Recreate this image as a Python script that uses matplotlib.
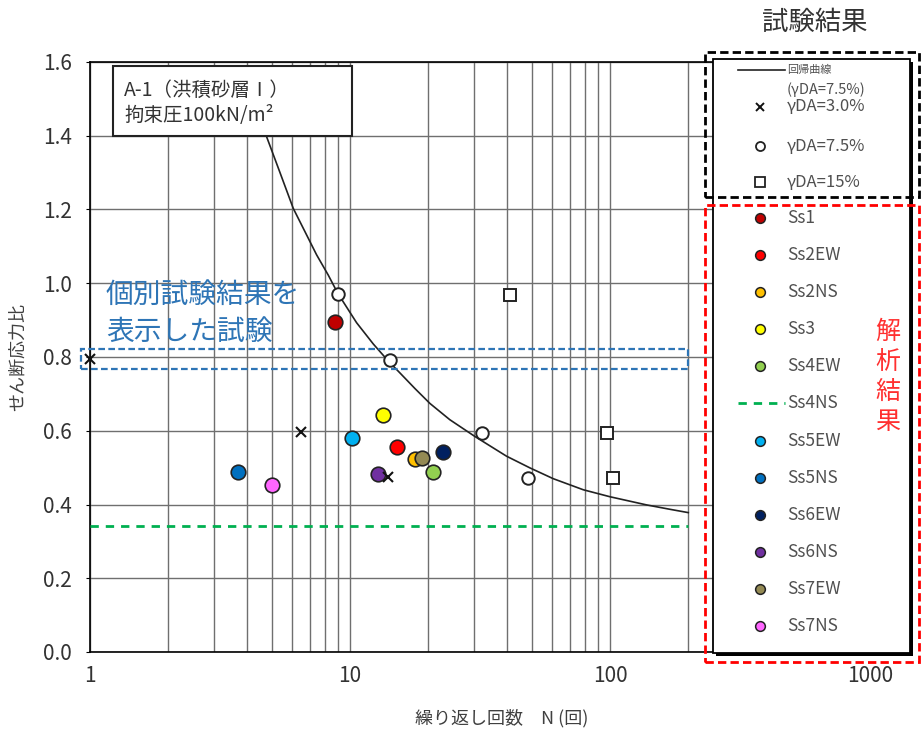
"""
Cyclic shear test results vs. analysis (A-1 diluvial sand)
"""

import numpy as np
import matplotlib
matplotlib.use("Agg")
import matplotlib.pyplot as plt
from matplotlib.lines import Line2D
from matplotlib.patches import Rectangle, FancyBboxPatch
from matplotlib.ticker import LogLocator, FixedLocator, NullFormatter

plt.rcParams["font.family"] = ["Noto Sans CJK JP", "DejaVu Sans"]

# regression curve (gamma DA = 7.5%)
curve_N = [4.4, 4.78, 5.38, 6.05, 6.71, 7.44, 8.25, 8.97, 10.6, 12.3, 14.0, 15.6,
           17.8, 20.3, 24.2, 30.3, 40.0, 49.3, 60.5, 78.9, 100, 138, 170, 200]
curve_r = [1.50, 1.397, 1.30, 1.203, 1.14, 1.077, 1.022, 0.973, 0.893, 0.835, 0.790, 0.756,
           0.714, 0.674, 0.630, 0.584, 0.531, 0.499, 0.470, 0.440, 0.421, 0.399, 0.387, 0.378]

# laboratory test results
da30_N = [1.0, 6.5, 14.0]
da30_r = [0.794, 0.596, 0.474]
da75_N = [9.0, 14.2, 32.3, 48.5]
da75_r = [0.971, 0.792, 0.595, 0.471]
da15_N = [41.2, 97.1, 103]
da15_r = [0.968, 0.595, 0.473]

# analysis results
ss_names = ["Ss1", "Ss2EW", "Ss2NS", "Ss3", "Ss4EW", "Ss4NS", "Ss5EW",
            "Ss5NS", "Ss6EW", "Ss6NS", "Ss7EW", "Ss7NS"]
ss_colors = ["#C00000", "#FF0000", "#FFC000", "#FFFF00", "#92D050", "#00B050",
             "#00B0F0", "#0070C0", "#002060", "#7030A0", "#948A54", "#FF66FF"]
ss_N = [8.76, 15.1, 17.8, 13.4, 20.9, None, 10.2, 3.72, 22.7, 12.8, 18.9, 5.03]
ss_r = [0.896, 0.555, 0.523, 0.643, 0.487, None, 0.580, 0.489, 0.543, 0.482, 0.525, 0.453]
ss4ns_N = [1.0, 200]
ss4ns_r = [0.3425, 0.3425]

# highlighted test band
band_N = [0.921, 200]
band_r = [0.767, 0.822]

W, H = 921, 743
def fx(px):
    return px / W
def fy(py):
    return 1 - py / H

fig = plt.figure(figsize=(W / 100, H / 100), dpi=100)
ax = fig.add_axes([fx(90), fy(652), (870 - 90) / W, (652 - 62) / H])

ax.set_xscale("log")
ax.set_xlim(1, 1000)
ax.set_ylim(0, 1.6)
ax.xaxis.set_major_locator(FixedLocator([1, 10, 100, 1000]))
ax.xaxis.set_minor_locator(LogLocator(base=10, subs=np.arange(2, 10)))
ax.xaxis.set_minor_formatter(NullFormatter())
ax.set_xticklabels(["1", "10", "100", "1000"])
ax.set_yticks(np.arange(0, 1.61, 0.2))
ax.set_yticklabels([f"{v:.1f}" for v in np.arange(0, 1.61, 0.2)])
ax.grid(True, which="both", axis="x", color="#6f6f6f", lw=1.0)
ax.grid(True, which="major", axis="y", color="#6f6f6f", lw=1.0)
ax.tick_params(axis="x", which="both", length=0, pad=9, labelsize=15, labelcolor="#333333")
ax.tick_params(axis="y", length=3, pad=10, labelsize=15, labelcolor="#333333")
for sp in ax.spines.values():
    sp.set_color("black")
    sp.set_linewidth(1.2)

# analysis (Ss4NS as a dashed level)
ax.plot(ss4ns_N, ss4ns_r, color=ss_colors[5], lw=2, ls=(0, (3, 2.5)), zorder=3)
order = [0, 1, 3, 4, 6, 7, 8, 9, 2, 10, 11]
for i in order:
    ax.plot(ss_N[i], ss_r[i], "o", ms=10.5, mfc=ss_colors[i], mec="#222222",
            mew=1.2, zorder=4)

ax.plot(curve_N, curve_r, color="#222222", lw=1.2, zorder=5)
ax.plot(da30_N, da30_r, "x", ms=7, mew=1.5, color="#111111", zorder=6, clip_on=False)
ax.plot(da75_N, da75_r, "o", ms=9, mfc="white", mec="#222222", mew=1.4, zorder=6)
ax.plot(da15_N, da15_r, "s", ms=9, mfc="white", mec="#222222", mew=1.4, zorder=6)

band = FancyBboxPatch((band_N[0], band_r[0]), band_N[1] - band_N[0], band_r[1] - band_r[0],
                      boxstyle="square,pad=0", fill=False, ec="#2E75B6", lw=1.6,
                      ls=(0, (3, 1.5)), clip_on=False, zorder=7)
ax.add_patch(band)

# blue note
fig.text(fx(106), fy(295), "個別試験結果を", fontsize=20, color="#2E75B6", va="center")
fig.text(fx(106), fy(332), "表示した試験", fontsize=20, color="#2E75B6", va="center")

# condition box
fig.patches.append(Rectangle((fx(113), fy(136)), (352 - 113) / W, (136 - 66) / H,
                             transform=fig.transFigure, fc="white", ec="#222222", lw=1.5))
fig.text(fx(124), fy(90), "A-1（洪積砂層Ⅰ）", fontsize=14, color="#333333", va="center")
fig.text(fx(124), fy(115), "拘束圧100kN/m²", fontsize=14, color="#333333", va="center")

# axis labels
fig.text(fx(502), fy(718), "繰り返し回数　N (回)", fontsize=13, color="#404040",
         ha="center", va="center")
fig.text(fx(18), fy(357), "せん断応力比", fontsize=13, color="#404040",
         ha="center", va="center", rotation=90)

# legend panel
fig.patches.append(Rectangle((fx(716), fy(656)), (913 - 716) / W, (656 - 62) / H,
                             transform=fig.transFigure, fc="black", ec="none"))
fig.patches.append(Rectangle((fx(713), fy(653)), (910 - 713) / W, (653 - 59) / H,
                             transform=fig.transFigure, fc="white", ec="black", lw=1.3))
fig.patches.append(Rectangle((fx(705), fy(197)), (919 - 705) / W, (197 - 52) / H,
                             transform=fig.transFigure, fill=False, ec="black", lw=2,
                             ls=(0, (3, 1.5))))
fig.patches.append(Rectangle((fx(705), fy(662)), (919 - 705) / W, (662 - 205) / H,
                             transform=fig.transFigure, fill=False, ec="#FF0000", lw=2,
                             ls=(0, (3, 1.5))))

fig.text(fx(815), fy(22), "試験結果", fontsize=19, color="#333333", ha="center", va="center")
fig.text(fx(888), fy(377), "\n".join("解析結果"), fontsize=18, color="#FF3030",
         ha="center", va="center", linespacing=1.2)

tx = fx(787)
mx = fx(760)
lab_col = "#505050"
fig.add_artist(Line2D([fx(738), fx(785)], [fy(70), fy(70)], color="#222222", lw=1.2))
fig.text(tx, fy(70), "回帰曲線", fontsize=8, color=lab_col, va="center")
fig.text(tx, fy(90), "(γDA=7.5%)", fontsize=10.5, color=lab_col, va="center")
test_rows = [("x", "γDA=3.0%", 107), ("o", "γDA=7.5%", 146), ("s", "γDA=15%", 182)]
for mk, lab, py in test_rows:
    if mk == "x":
        fig.add_artist(Line2D([mx], [fy(py)], marker="x", ms=5.5, mew=1.4, color="#111111", ls="none"))
    else:
        fig.add_artist(Line2D([mx], [fy(py)], marker=mk, ms=6.5, mfc="white", mec="#222222",
                              mew=1.3, ls="none"))
    fig.text(tx, fy(py), lab, fontsize=12, color=lab_col, va="center")

for k, (name, col) in enumerate(zip(ss_names, ss_colors)):
    py = 218 + k * 37.1
    if name == "Ss4NS":
        fig.add_artist(Line2D([fx(738), fx(785)], [fy(py), fy(py)], color=col, lw=2,
                              ls=(0, (3, 2.5))))
    else:
        fig.add_artist(Line2D([mx], [fy(py)], marker="o", ms=7, mfc=col, mec="#222222",
                              mew=1.1, ls="none"))
    fig.text(tx, fy(py), name, fontsize=12.5, color=lab_col, va="center")

plt.savefig("out.png", dpi=100)
